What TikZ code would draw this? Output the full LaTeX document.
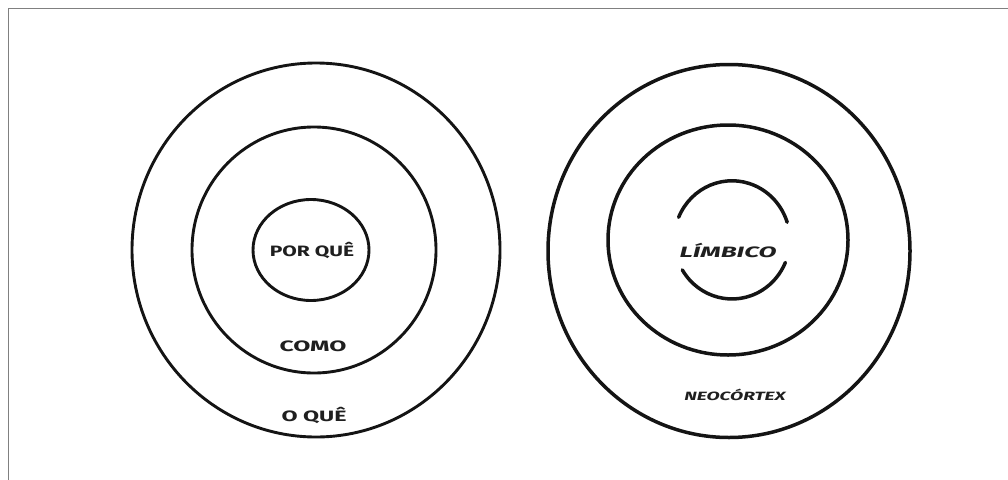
\documentclass[tikz,border=0pt]{standalone}
\usepackage{fontspec}
\usepackage{graphicx}
\setmainfont{Fira Sans}
\usetikzlibrary{shapes.geometric}
\newcommand{\wide}[2]{\scalebox{#1}[1]{#2}}
\begin{document}
\begin{tikzpicture}[x=1pt,y=-1pt,
  ring/.style={draw=black!92, line width=2.9pt, ellipse, inner sep=0pt},
  ringR/.style={draw=black!92, line width=3.5pt, ellipse, inner sep=0pt},
  lbl/.style={font=\fontsize{15}{16}\selectfont\bfseries, text=black!88, inner sep=1pt},
  lblI/.style={font=\fontsize{15}{16}\selectfont\bfseries\itshape, text=black!88, inner sep=1pt},
  arcline/.style={draw=black!92, line width=3.5pt, line cap=round}]
\useasboundingbox (0,0) rectangle (1008,479);
% frame
\draw[draw=black!50, line width=1.8pt] (1030,8.5) -- (8.5,8.5) -- (8.5,500);
% left circles
\node[ring, minimum width=368pt, minimum height=374pt] (outerL) at (316,250) {};
\node[ring, minimum width=244pt, minimum height=246pt] (midL) at (314,250) {};
\node[ring, minimum width=116pt, minimum height=101pt] (innerL) at (311,250) {};
\node[lbl] (porque) at (312,250) {\wide{1.4}{POR QUÊ}};
\node[lbl] (como) at (313,346) {\wide{1.65}{COMO}};
\node[lbl] (oque) at (314,415) {\wide{1.55}{O QUÊ}};
% right circles
\node[ringR, minimum width=362pt, minimum height=373pt] (outerR) at (729,251) {};
\node[ringR, minimum width=240pt, minimum height=230pt] (midR) at (728,240) {};
\coordinate (limC) at (732,240);
\draw[arcline] ([shift={(157:58pt)}]limC) arc[start angle=157, end angle=18, x radius=58pt, y radius=60pt];
\draw[arcline] ([shift={(-149:58pt)}]limC) arc[start angle=-149, end angle=-23, x radius=58pt, y radius=60pt];
\node[lblI] (limbico) at (728,250) {\wide{1.75}{LÍMBICO}};
\node[lblI, font=\fontsize{12}{13}\selectfont\bfseries\itshape] (neo) at (735,395) {\wide{1.6}{NEOCÓRTEX}};
\end{tikzpicture}
\end{document}
